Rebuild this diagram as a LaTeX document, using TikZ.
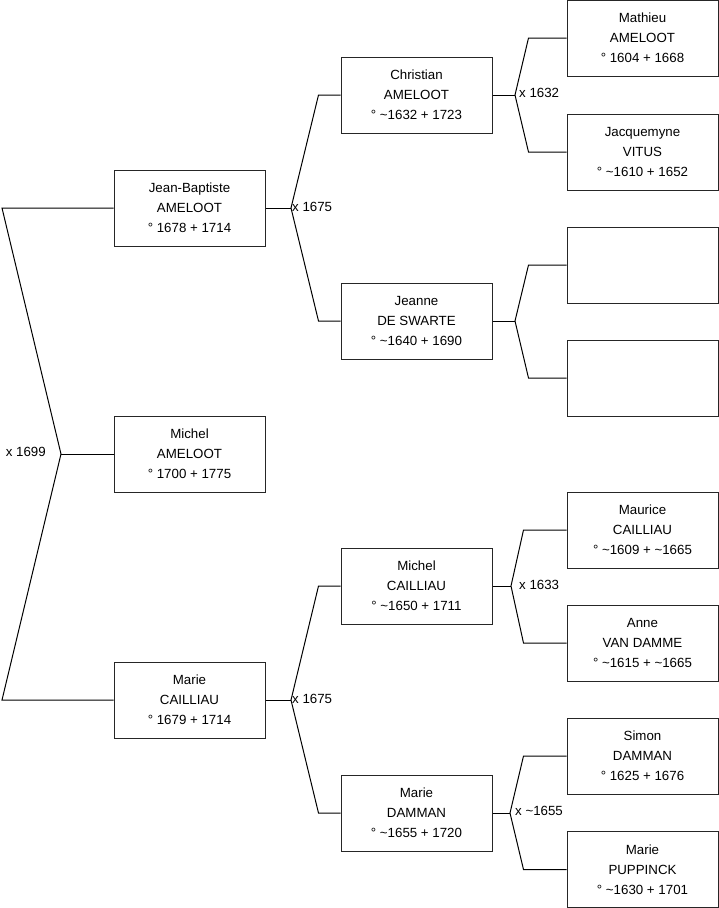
\documentclass[tikz,border=0pt]{standalone}
\usepackage{fontspec}
\setmainfont{Liberation Sans}
\begin{document}
\begin{tikzpicture}[x=1pt,y=-1pt,
  person/.style={draw=black!85, line width=1pt, minimum width=151pt, minimum height=76pt,
    inner sep=0pt, align=center, font=\fontsize{13.3}{20}\selectfont},
  link/.style={draw=black, line width=1pt},
  marr/.style={font=\fontsize{13.3}{15}\selectfont, inner sep=1pt}]
\useasboundingbox (0,0) rectangle (719,908);
% generation 1
\node[person] (jb) at (189.5,208) {Jean-Baptiste\\AMELOOT\\° 1678 + 1714};
\node[person] (mi) at (189.5,454) {Michel\\AMELOOT\\° 1700 + 1775};
\node[person] (ma) at (189.5,700) {Marie\\CAILLIAU\\° 1679 + 1714};
% generation 2
\node[person] (ch) at (416.5,95) {Christian\\AMELOOT\\° \textasciitilde1632 + 1723};
\node[person] (je) at (416.5,321) {Jeanne\\DE SWARTE\\° \textasciitilde1640 + 1690};
\node[person] (mc) at (416.5,586) {Michel\\CAILLIAU\\° \textasciitilde1650 + 1711};
\node[person] (md) at (416.5,813) {Marie\\DAMMAN\\° \textasciitilde1655 + 1720};
% generation 3
\node[person] (mt) at (642.5,38) {Mathieu\\AMELOOT\\° 1604 + 1668};
\node[person] (ja) at (642.5,152) {Jacquemyne\\VITUS\\° \textasciitilde1610 + 1652};
\node[person] (e1) at (642.5,265) {};
\node[person] (e2) at (642.5,378) {};
\node[person] (mu) at (642.5,530) {Maurice\\CAILLIAU\\° \textasciitilde1609 + \textasciitilde1665};
\node[person] (an) at (642.5,643) {Anne\\VAN DAMME\\° \textasciitilde1615 + \textasciitilde1665};
\node[person] (si) at (642.5,756) {Simon\\DAMMAN\\° 1625 + 1676};
\node[person] (pu) at (642.5,869.5) {Marie\\PUPPINCK\\° \textasciitilde1630 + 1701};
% fork vertices
\coordinate (v0) at (61,454);
\coordinate (tl) at (2,208);
\coordinate (bl) at (2,700);
\coordinate (v1) at (291,208);
\coordinate (v2) at (291,700);
\coordinate (v3) at (515,95);
\coordinate (v4) at (515,321);
\coordinate (v5) at (511,586);
\coordinate (v6) at (510,813);
% connectors
\draw[link] (jb.west) -- (tl) -- (v0) -- (bl) -- (ma.west);
\draw[link] (v0) -- (mi.west);
\draw[link] (jb.east) -- (v1);
\draw[link] (ch.west) -- ([xshift=-22pt]ch.west) -- (v1) -- ([xshift=-22pt]je.west) -- (je.west);
\draw[link] (ma.east) -- (v2);
\draw[link] (mc.west) -- ([xshift=-22pt]mc.west) -- (v2) -- ([xshift=-22pt]md.west) -- (md.west);
\draw[link] (ch.east) -- (v3);
\draw[link] (mt.west) -- ([xshift=-38pt]mt.west) -- (v3) -- ([xshift=-38pt]ja.west) -- (ja.west);
\draw[link] (je.east) -- (v4);
\draw[link] (e1.west) -- ([xshift=-38pt]e1.west) -- (v4) -- ([xshift=-38pt]e2.west) -- (e2.west);
\draw[link] (mc.east) -- (v5);
\draw[link] (mu.west) -- ([xshift=-43pt]mu.west) -- (v5) -- ([xshift=-43pt]an.west) -- (an.west);
\draw[link] (md.east) -- (v6);
\draw[link] (si.west) -- ([xshift=-43pt]si.west) -- (v6) -- ([xshift=-43pt]pu.west) -- (pu.west);
% marriage labels
\node[marr, anchor=east] (m0) at (47,452) {x 1699};
\node[marr, anchor=west] (m1) at (291,207) {x 1675};
\node[marr, anchor=west] (m2) at (291,699) {x 1675};
\node[marr, anchor=west] (m3) at (518,93) {x 1632};
\node[marr, anchor=west] (m5) at (518,585) {x 1633};
\node[marr, anchor=west] (m6) at (514,811) {x \textasciitilde1655};
\end{tikzpicture}
\end{document}
